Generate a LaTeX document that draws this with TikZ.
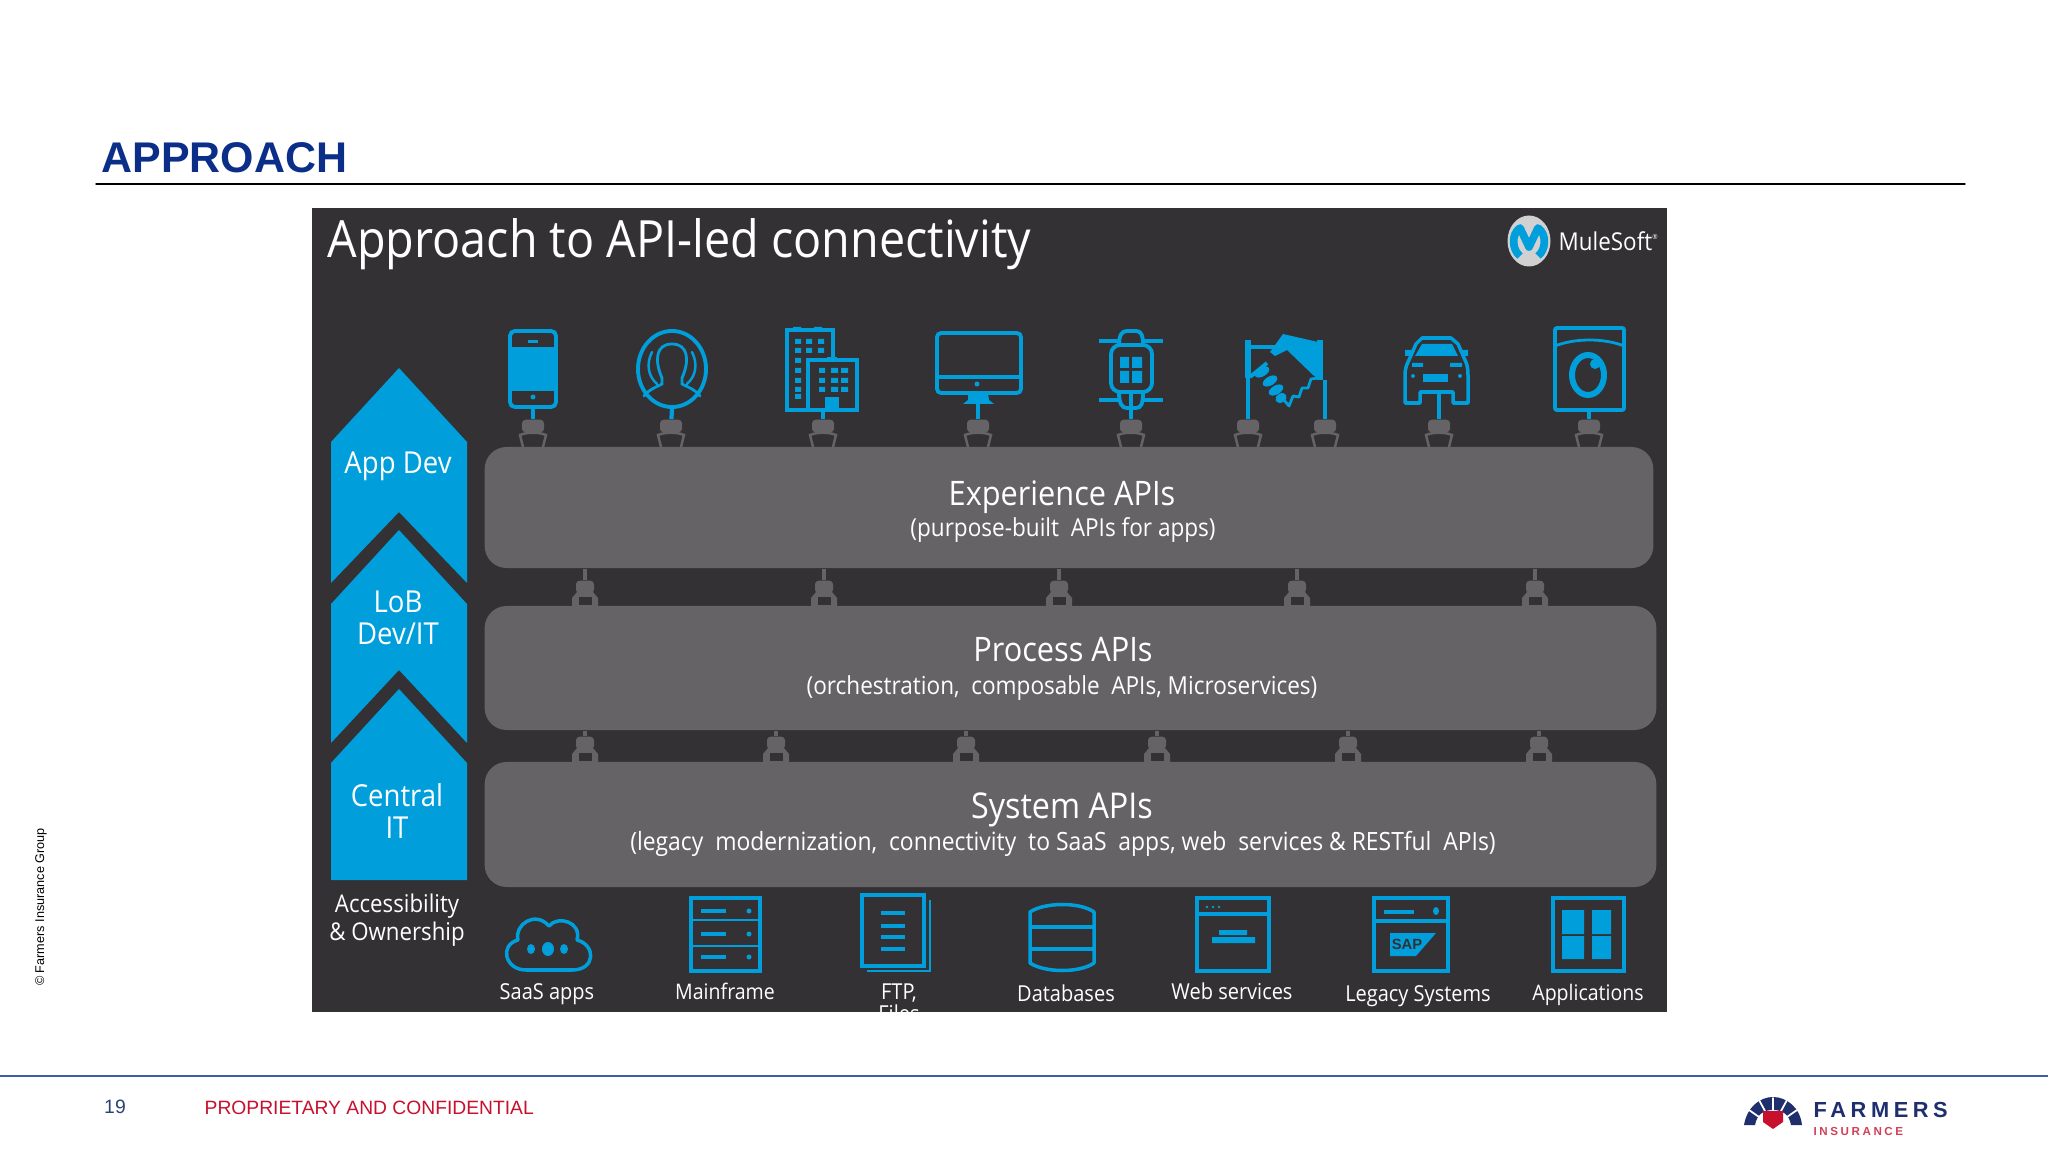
\documentclass[tikz,border=0pt]{standalone}
\usepackage{fontspec}
\setmainfont{Liberation Sans}
\newfontfamily\panelfont[FakeStretch=.91]{Open Sans}
\usepackage{xcolor}
\usetikzlibrary{shapes.geometric}
\definecolor{panelbg}{HTML}{333133}
\definecolor{layerbg}{HTML}{656366}
\definecolor{muleblue}{HTML}{009FDC}
\definecolor{titleblue}{HTML}{0B2E88}
\definecolor{footline}{HTML}{3D5EA6}
\definecolor{footred}{HTML}{C8102E}
\definecolor{farmnavy}{HTML}{1F2F6E}

\begin{document}
\begin{tikzpicture}[x=0.01cm,y=-0.01cm,line cap=round,
  panelsize/.style={font=\panelfont\fontsize{#1}{#1}\selectfont,text=white,inner sep=0},
  chevron/.style={fill=muleblue},
  layer/.style={fill=layerbg,rounded corners=.22cm,inner sep=0,align=center,text=white},
  iconline/.style={draw=muleblue,line width=1.1pt,inner sep=0,line cap=butt},
  iconfill/.style={fill=muleblue},
  wire/.style={draw=muleblue,line width=1.2pt,line cap=butt},
  greywire/.style={draw=layerbg,line width=1.1pt,line cap=butt},
  plughead/.style={fill=layerbg,rounded corners=1pt,inner sep=0,minimum width=#1,minimum height=.125cm},
  plughead/.default=.22cm,
  plugtop/.pic={\draw[layerbg,line width=.7pt,line cap=butt] (-10,0) -- (-13,-12) .. controls (-6,-15) and (6,-15) .. (13,-12) -- (10,0);},
  pluglow/.pic={\fill[layerbg] (-13,0) -- (-13,-8) -- (-8,-14) -- (8,-14) -- (13,-8) -- (13,0) -- cycle;
    \fill[panelbg] (-6.5,-1) rectangle (6.5,-9);}
]
\useasboundingbox (0,0) rectangle (2048,1152);
\fill[white] (0,0) rectangle (2048,1152);

\node[anchor=west,inner sep=0,text=titleblue,font=\bfseries\fontsize{12.2}{13}\selectfont] (slidetitle) at (101,158) {APPROACH};
\draw[black,line width=.4pt] (96,184) -- (1965,184);
\node[rotate=90,inner sep=0,font=\fontsize{3.6}{4}\selectfont] (copyright) at (41,907) {\textcopyright{} Farmers Insurance Group};

\fill[panelbg] (312,208) rectangle (1667,1012);
\node[panelsize=14.6,anchor=west] (paneltitle) at (327,244) {Approach to API-led connectivity};

\fill[white!82!black] (1529,241) ellipse (21.5 and 25.5);
\draw[muleblue,line width=2.2pt,line cap=butt,line join=round] (1520,256) .. controls (1512,250) and (1511,234) .. (1520,228) -- (1529,247) -- (1538,228) .. controls (1547,234) and (1546,250) .. (1538,256);
\node[panelsize=7,anchor=west] (mulename) at (1558,241) {MuleSoft\textsuperscript{\fontsize{2}{2}\selectfont ®}};

\fill[chevron] (399,368) -- (467,442) -- (467,583) -- (399,512) -- (331,583) -- (331,442) -- cycle;
\fill[chevron] (399,530) -- (467,604) -- (467,743) -- (399,670) -- (331,743) -- (331,604) -- cycle;
\fill[chevron] (399,689) -- (467,763) -- (467,880) -- (331,880) -- (331,763) -- cycle;
\node[panelsize=8.6,align=center] (appdev) at (398,466) {App Dev};
\node[panelsize=8.6,align=center] (lobdev) at (398,618) {LoB\\[.6pt]Dev/IT};
\node[panelsize=8.6,align=center] (central) at (397,811) {Central\\[.6pt]IT};
\node[panelsize=6.95,align=center] (ownership) at (397,920) {Accessibility\\[1.2pt]\&~Ownership};

\node[layer,minimum width=11.68cm,minimum height=1.21cm] (expapi) at (1069,507.5) {};
\node[layer,minimum width=11.71cm,minimum height=1.24cm] (procapi) at (1070.5,668) {};
\node[layer,minimum width=11.71cm,minimum height=1.25cm] (sysapi) at (1070.5,824.5) {};
\node[panelsize=9.6] (exptitle) at (1062,497) {Experience APIs};
\node[panelsize=7.05] (expsub) at (1063,530) {(purpose-built\ \ APIs for apps)};
\node[panelsize=9.6] (proctitle) at (1063,650) {Process APIs};
\node[panelsize=7.05] (procsub) at (1062,688) {(orchestration,\ \ composable\ \ APIs, Microservices)};
\node[panelsize=10.1] (systitle) at (1062,810) {System APIs};
\node[panelsize=7.15] (syssub) at (1063,844) {(legacy\ \ modernization,\ \ connectivity\ \ to SaaS\ \ apps, web\ \ services \& RESTful\ \ APIs)};

\node[iconline,rounded corners=1.4pt,minimum width=.46cm,minimum height=.76cm] (phone) at (533,369) {};
\fill[iconfill] (510,347) rectangle (556,391);
\fill[iconfill] (528,340) rectangle (538,343);
\fill[iconfill] (533,397) circle (2.5);

\node[iconline,ellipse,minimum width=.68cm,minimum height=.76cm] (person) at (672,369) {};
\draw[muleblue,line width=.8pt] (662,378) .. controls (654,360) and (656,344) .. (672,344) .. controls (688,344) and (690,360) .. (682,378) -- (682,384) .. controls (690,388) and (697,391) .. (700,396);
\draw[muleblue,line width=.8pt] (662,378) -- (662,384) .. controls (654,388) and (647,391) .. (644,396);
\draw[muleblue,line width=.7pt] (652,352) .. controls (646,364) and (648,376) .. (657,384);
\draw[muleblue,line width=.7pt] (692,352) .. controls (698,364) and (696,376) .. (687,384);

\node[iconline,minimum width=.46cm,minimum height=.8cm] (tower) at (810,370) {};
\fill[iconfill] (793,327) rectangle (801,331) (814,327) rectangle (822,331);
\fill[panelbg] (808,360) rectangle (857,410);
\node[iconline,fill=panelbg,minimum width=.49cm,minimum height=.5cm] (annex) at (832.5,385) {};
\fill[iconfill] (827,357) rectangle (837,360);
\fill[iconfill] (795,339) rectangle (801,344) (806,339) rectangle (812,344) (818,339) rectangle (824,344);
\fill[iconfill] (795,348) rectangle (801,353) (806,348) rectangle (812,353) (818,348) rectangle (824,353);
\fill[iconfill] (795,358) rectangle (801,363) (795,368) rectangle (801,373) (795,378) rectangle (801,383) (795,387) rectangle (801,392) (795,394) rectangle (801,399);
\fill[iconfill] (819,368) rectangle (825,373) (831,368) rectangle (838,373) (841,368) rectangle (848,373);
\fill[iconfill] (819,378) rectangle (825,383) (831,378) rectangle (838,383) (841,378) rectangle (848,383);
\fill[iconfill] (819,387) rectangle (825,392) (831,387) rectangle (838,392) (841,387) rectangle (848,392);
\fill[iconfill] (825,397) rectangle (839,410);

\node[iconline,rounded corners=1.2pt,minimum width=.84cm,minimum height=.6cm] (monitor) at (979,363) {};
\draw[muleblue,line width=.9pt,line cap=butt] (937,377) -- (1021,377);
\fill[iconfill] (977,384) circle (2.5);
\fill[iconfill] (968,393) -- (988,393) -- (989,400) -- (994,404) -- (963,404) -- (968,400) -- cycle;

\node[iconline,rounded corners=2.6pt,minimum width=.41cm,minimum height=.47cm] (watch) at (1131.5,368.5) {};
\draw[muleblue,line width=1.1pt,line cap=butt] (1119,345) .. controls (1119,335) and (1122,331) .. (1127,331) -- (1136,331) .. controls (1141,331) and (1143,335) .. (1143,345);
\draw[muleblue,line width=1.1pt,line cap=butt] (1119,392) .. controls (1119,404) and (1122,408) .. (1127,408) -- (1136,408) .. controls (1141,408) and (1143,404) .. (1143,392);
\draw[muleblue,line width=1.4pt,line cap=butt] (1099,341) -- (1119,341) (1143,341) -- (1163,341);
\draw[muleblue,line width=1.4pt,line cap=butt] (1099,400) -- (1119,400) (1143,400) -- (1163,400);
\fill[iconfill] (1120,357) rectangle (1129,368) (1132,357) rectangle (1142,368) (1120,371) rectangle (1129,383) (1132,371) rectangle (1142,383);

\coordinate (handl) at (1248,340);
\coordinate (handr) at (1325,380);
\draw[muleblue,line width=1.6pt,line cap=butt] (1248,340) -- (1248,378);
\draw[muleblue,line width=1.1pt,line cap=butt] (1248,347) -- (1275,347) (1250,377) -- (1267,363);
\draw[muleblue,line width=1.6pt,line cap=butt] (1320,340) -- (1320,380);
\fill[iconfill] (1270,352) -- (1283,334) -- (1318,342) -- (1320,380) -- (1313,375) -- (1287,350) -- (1275,356) -- cycle;
\fill[iconfill,rotate around={30:(1262,372)}] (1262,372) ellipse (8 and 4.5);
\fill[iconfill,rotate around={30:(1270,381)}] (1270,381) ellipse (8 and 4.5);
\fill[iconfill,rotate around={30:(1276,390)}] (1276,390) ellipse (8 and 4.5);
\fill[iconfill,rotate around={30:(1281,398)}] (1281,398) ellipse (6 and 4.5);
\draw[muleblue,line width=.8pt,line cap=butt,line join=round] (1284,400) -- (1289,406) -- (1293,396) -- (1299,397) -- (1302,388) -- (1308,388) -- (1311,379) -- (1318,378);

\coordinate (carbase) at (1439,392);
\draw[muleblue,line width=1pt,line join=round] (1405,403) -- (1405,375) .. controls (1405,368) and (1407,364) .. (1409,360) -- (1416,344) -- (1422,338) -- (1451,338) -- (1458,344) -- (1465,360) .. controls (1467,364) and (1468,368) .. (1468,375) -- (1468,403) -- (1453,403) -- (1453,392) -- (1420,392) -- (1420,403) -- cycle;
\fill[iconfill] (1422,344) -- (1452,344) -- (1458,356) -- (1415,356) -- cycle;
\fill[iconfill] (1423,374) rectangle (1448,382);
\fill[iconfill] (1412,363) rectangle (1423,367) (1450,363) rectangle (1462,367);
\fill[iconfill] (1413,376) circle (2) (1460,376) circle (2);
\fill[iconfill] (1405,350) rectangle (1411,356) (1462,350) rectangle (1468,356);

\node[iconline,rounded corners=.6pt,minimum width=.69cm,minimum height=.82cm] (washer) at (1589.5,369) {};
\draw[muleblue,line width=.8pt] (1555,346) .. controls (1575,338) and (1604,338) .. (1624,346);
\draw[muleblue,line width=1.7pt] (1588,375) ellipse (16 and 20);
\fill[iconfill] (1595,364) circle (5);

\node[plughead] (topa) at (533,426) {};
\node[plughead] (topb) at (671,426) {};
\node[plughead] (topc) at (823,426) {};
\node[plughead] (topd) at (978,426) {};
\node[plughead] (tope) at (1131,426) {};
\node[plughead] (topf) at (1248,426) {};
\node[plughead] (topg) at (1325,426) {};
\node[plughead] (toph) at (1439,426) {};
\node[plughead] (topi) at (1589,426) {};
\draw[wire] (phone.south) -- (topa);
\draw[wire] (person.south) -- (topb);
\draw[wire] (annex.south -| topc) -- (topc);
\draw[wire] (monitor.south -| topd) -- (topd);
\draw[wire] (watch.south -| tope) -- (tope);
\draw[wire] (handl) -- (topf);
\draw[wire] (handr) -- (topg);
\draw[wire] (carbase) -- (toph);
\draw[wire] (washer.south -| topi) -- (topi);
\pic at (533,447) {plugtop};
\pic at (671,447) {plugtop};
\pic at (823,447) {plugtop};
\pic at (978,447) {plugtop};
\pic at (1131,447) {plugtop};
\pic at (1248,447) {plugtop};
\pic at (1325,447) {plugtop};
\pic at (1439,447) {plugtop};
\pic at (1589,447) {plugtop};

\node[plughead=.18cm] (mida) at (585,587) {};
\node[plughead=.18cm] (midb) at (824,587) {};
\node[plughead=.18cm] (midc) at (1059,587) {};
\node[plughead=.18cm] (midd) at (1297,587) {};
\node[plughead=.18cm] (mide) at (1535,587) {};
\draw[greywire] (expapi.south -| mida) -- (mida);
\draw[greywire] (expapi.south -| midb) -- (midb);
\draw[greywire] (expapi.south -| midc) -- (midc);
\draw[greywire] (expapi.south -| midd) -- (midd);
\draw[greywire] (expapi.south -| mide) -- (mide);
\pic at (585,606) {pluglow};
\pic at (824,606) {pluglow};
\pic at (1059,606) {pluglow};
\pic at (1297,606) {pluglow};
\pic at (1535,606) {pluglow};

\node[plughead=.18cm] (lowa) at (585,743) {};
\node[plughead=.18cm] (lowb) at (776,743) {};
\node[plughead=.18cm] (lowc) at (966,743) {};
\node[plughead=.18cm] (lowd) at (1157,743) {};
\node[plughead=.18cm] (lowe) at (1348,743) {};
\node[plughead=.18cm] (lowf) at (1539,743) {};
\draw[greywire] (procapi.south -| lowa) -- (lowa);
\draw[greywire] (procapi.south -| lowb) -- (lowb);
\draw[greywire] (procapi.south -| lowc) -- (lowc);
\draw[greywire] (procapi.south -| lowd) -- (lowd);
\draw[greywire] (procapi.south -| lowe) -- (lowe);
\draw[greywire] (procapi.south -| lowf) -- (lowf);
\pic at (585,762) {pluglow};
\pic at (776,762) {pluglow};
\pic at (966,762) {pluglow};
\pic at (1157,762) {pluglow};
\pic at (1348,762) {pluglow};
\pic at (1539,762) {pluglow};

\draw[muleblue,line width=1pt,line join=round] (526,970) .. controls (505,970) and (499,945) .. (518,940) .. controls (514,925) and (535,910) .. (549,926) .. controls (558,915) and (582,922) .. (577,940) .. controls (596,945) and (596,970) .. (572,970) -- cycle;
\fill[iconfill] (531,949) ellipse (4 and 5) (548,949) ellipse (6 and 7) (564,949) ellipse (4 and 5);

\node[iconline,minimum width=.69cm,minimum height=.73cm] (mainframe) at (725.5,934.5) {};
\draw[muleblue,line width=.8pt,line cap=butt] (691,920) -- (760,920) (691,946) -- (760,946);
\draw[muleblue,line width=1pt,line cap=butt] (701,911) -- (726,911) (701,934) -- (726,934) (701,957) -- (726,957);
\fill[iconfill] (749,911) circle (2.5) (749,934) circle (2.5) (749,957) circle (2.5);

\draw[muleblue,line width=.8pt,line cap=butt] (930,900) -- (930,971) -- (867,971);
\node[iconline,minimum width=.62cm,minimum height=.71cm] (ftpfile) at (893,930.5) {};
\draw[muleblue,line width=1pt,line cap=butt] (881,913) -- (905,913) (881,926) -- (905,926) (881,937) -- (905,937) (881,949) -- (905,949);

\draw[muleblue,line width=1pt,line join=round] (1030,912) .. controls (1045,902) and (1080,902) .. (1094,912) -- (1094,963) .. controls (1080,973) and (1045,973) .. (1030,963) -- cycle;
\draw[muleblue,line width=1.3pt,line cap=butt] (1030,927) -- (1094,927) (1030,949) -- (1094,949);

\node[iconline,minimum width=.72cm,minimum height=.73cm] (webpage) at (1233,934.5) {};
\draw[muleblue,line width=.9pt,line cap=butt] (1197,914) -- (1269,914);
\fill[iconfill] (1207,907) circle (1.3) (1213,907) circle (1.3) (1219,907) circle (1.3);
\fill[iconfill] (1219,930) rectangle (1247,935) (1212,937) rectangle (1255,943);

\node[iconline,minimum width=.74cm,minimum height=.73cm] (legacybox) at (1411,934.5) {};
\draw[muleblue,line width=.9pt,line cap=butt] (1374,921) -- (1448,921);
\fill[iconfill] (1384,910) rectangle (1414,914);
\fill[iconfill] (1436,911) ellipse (3 and 4);
\fill[iconfill] (1390,933) -- (1436,933) -- (1416,956) -- (1390,956) -- cycle;
\node[font=\bfseries\fontsize{4.2}{5}\selectfont,text=panelbg,inner sep=0] (saplogo) at (1407,944) {SAP};

\node[iconline,minimum width=.71cm,minimum height=.73cm] (appsbox) at (1588.5,934.5) {};
\fill[iconfill] (1562,910) rectangle (1584,934) (1592,910) rectangle (1611,934) (1562,936) rectangle (1584,959) (1592,936) rectangle (1611,959);

\node[panelsize=6.25] (saasname) at (547,994) {SaaS apps};
\node[panelsize=6.1] (mainname) at (725,991) {Mainframe};
\node[panelsize=6.25] (dbname) at (1066,993) {Databases};
\node[panelsize=6.25] (webname) at (1232,991) {Web services};
\node[panelsize=6.25] (legacyname) at (1418,996) {Legacy Systems};
\node[panelsize=6.1] (appsname) at (1588,995) {Applications};
\begin{scope}
\clip (312,208) rectangle (1667,1012);
\node[panelsize=6.25,align=center,anchor=north] (ftpname) at (899,983) {FTP,\\Files};
\end{scope}

\draw[footline,line width=.5pt] (0,1076) -- (2048,1076);
\node[inner sep=0,text=footline!70!black,font=\fontsize{5.5}{6}\selectfont] (pagenum) at (115,1107) {19};
\node[anchor=west,inner sep=0,text=footred,font=\fontsize{5.48}{6}\selectfont] (confidential) at (204,1108) {PROPRIETARY AND CONFIDENTIAL};

\fill[farmnavy] (1744,1125) .. controls (1747,1107) and (1760,1097) .. (1773,1097) .. controls (1786,1097) and (1800,1107) .. (1802,1125) -- (1791,1125) .. controls (1789,1114) and (1782,1110) .. (1773,1110) .. controls (1764,1110) and (1757,1114) .. (1755,1125) -- cycle;
\draw[white,line width=.5pt] (1773,1110) -- (1773,1098) (1765,1111) -- (1759,1100) (1781,1111) -- (1787,1100) (1759,1117) -- (1749,1110) (1787,1117) -- (1797,1110);
\fill[footred] (1763,1111) -- (1783,1111) -- (1783,1122) -- (1773,1129) -- (1763,1122) -- cycle;
\node[anchor=west,inner sep=0,text=farmnavy,font=\bfseries\addfontfeature{LetterSpace=21}\fontsize{6.2}{8}\selectfont] (farmname) at (1813,1110) {FARMERS};
\node[anchor=west,inner sep=0,text=footred!80,font=\bfseries\addfontfeature{LetterSpace=22}\fontsize{3.3}{4}\selectfont] (farmsub) at (1813,1131) {INSURANCE};
\end{tikzpicture}
\end{document}
